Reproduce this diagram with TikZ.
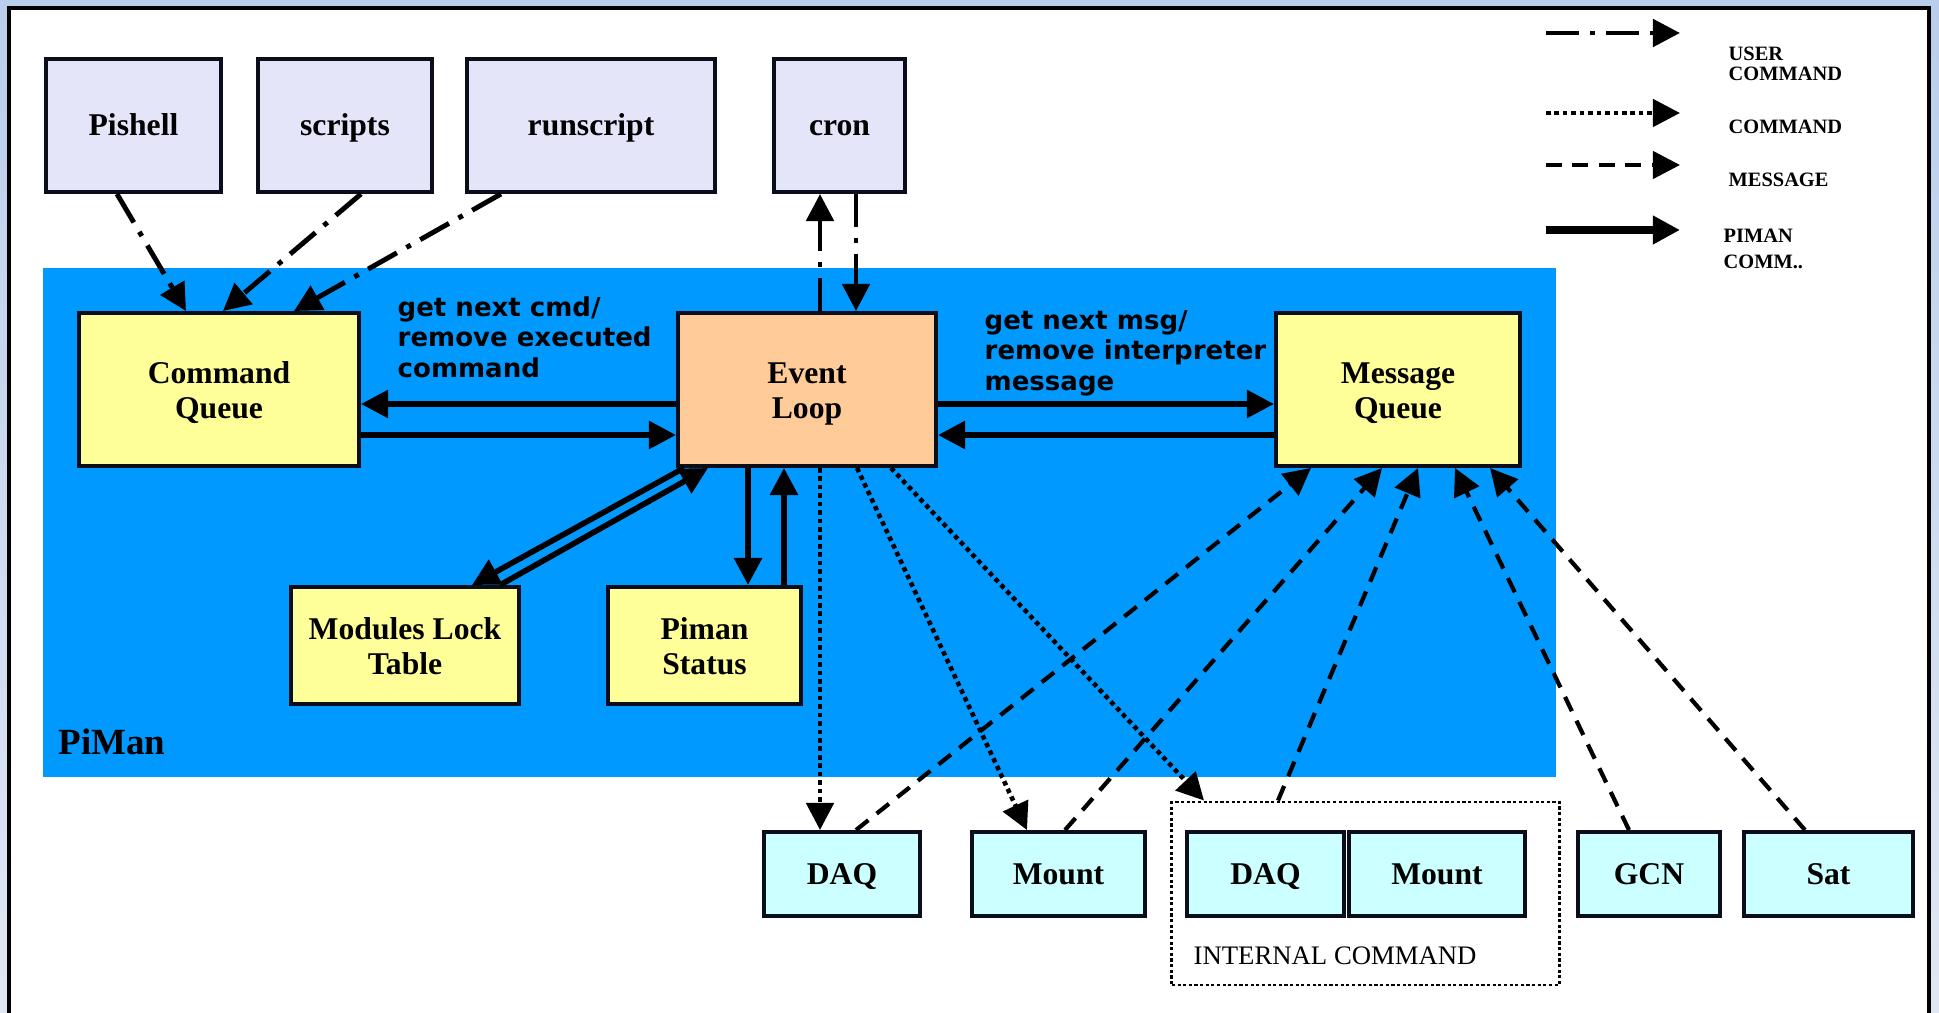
\documentclass[tikz,border=0pt]{standalone}
\usepackage{fontspec}
\setmainfont{Liberation Serif}
\newfontfamily\verdana{DejaVu Sans}
\usetikzlibrary{arrows.meta}
\definecolor{pimanblue}{HTML}{0099FF}
\definecolor{userfill}{HTML}{E5E5FA}
\definecolor{pimanfill}{HTML}{FFFF99}
\definecolor{loopfill}{HTML}{FFCC99}
\definecolor{devfill}{HTML}{CCFFFF}
\definecolor{edge}{HTML}{0A0E1A}

\begin{document}
\begin{tikzpicture}[x=0.01cm,y=-0.01cm,>={Triangle[length=7.7pt,width=7.7pt]}]
\tikzset{box/.style = {draw=edge, line width=1.1pt, inner sep=0pt, align=center, font=\fontsize{9}{10}\selectfont\bfseries},
  oneline/.style = {text height=5.95pt, text depth=0pt}, twoline/.style = {text height=16.6pt, text depth=0pt},
  ubox/.style = {box, oneline, fill=userfill, minimum height=1.33cm}, pbox/.style = {box, twoline, fill=pimanfill}, dbox/.style = {box, oneline, fill=devfill, minimum height=0.84cm},
  ucmd/.style = {->, line width=1.4pt, dash pattern=on 9.4pt off 3.1pt on 1.4pt off 3.1pt},
  cmd/.style = {->, line width=1.3pt, dash pattern=on 1.3pt off 1.1pt},
  msg/.style = {->, line width=1.2pt, dash pattern=on 4.5pt off 3pt},
  pcomm/.style = {->, line width=1.6pt},
  lbl/.style = {anchor=west, inner sep=0pt, align=left, font=\verdana\bfseries\fontsize{7.4}{8.7}\selectfont},
  key/.style = {anchor=west, inner sep=0pt, align=left, font=\bfseries\fontsize{5.8}{5.8}\selectfont}}
\useasboundingbox (0,0) rectangle (1939,1013);
\shade[top color={rgb,255:red,185;green,206;blue,236}, bottom color={rgb,255:red,224;green,231;blue,244}] (0,0) rectangle (1939,1013);
\fill[white] (9,8) rectangle (1929,1013); \draw[line width=0.9pt] (9,1013) -- (9,8) -- (1929,8) -- (1929,1013);
\node[fill=pimanblue, minimum width=15.13cm, minimum height=5.09cm, inner sep=0pt] (B) at (799.5,522.5) {};
\node[anchor=west, inner sep=0pt, font=\bfseries\fontsize{10.5}{12}\selectfont] (BL) at (58,741.5) {PiMan};

\node[ubox, minimum width=1.75cm] (U1) at (133.5,125.5) {Pishell}; \node[ubox, minimum width=1.74cm] (U2) at (345,125.5) {scripts};
\node[ubox, minimum width=2.48cm] (U3) at (591,125.5) {runscript}; \node[ubox, minimum width=1.31cm] (U4) at (839.5,125.5) {cron};

\node[pbox, minimum width=2.8cm, minimum height=1.53cm] (P1) at (219,389.5) {Command\\Queue};
\node[pbox, fill=loopfill, minimum width=2.58cm, minimum height=1.53cm] (P2) at (807,389.5) {Event\\Loop};
\node[pbox, minimum width=2.44cm, minimum height=1.53cm] (P3) at (1398,389.5) {Message\\Queue};
\node[pbox, minimum width=2.28cm, minimum height=1.17cm] (P4) at (405,645.5) {Modules Lock\\Table};
\node[pbox, minimum width=1.93cm, minimum height=1.17cm] (P5) at (704.5,645.5) {Piman\\Status};

\node[lbl] (T1) at (397,337) {get next cmd/\\remove executed\\command};
\node[lbl] (T2) at (984,353) {get next msg/\\remove interpreter\\message};

\node[draw, line width=0.8pt, dash pattern=on 0.9pt off 0.7pt, minimum width=3.87cm, minimum height=1.83cm, inner sep=0pt] (IC) at (1365.5,893.5) {};
\node[anchor=west, inner sep=0pt, font=\fontsize{7.6}{9}\selectfont] (ICL) at (1193,955.5) {INTERNAL COMMAND};
\node[dbox, minimum width=1.56cm] (S1) at (842,874) {DAQ}; \node[dbox, minimum width=1.73cm] (S2) at (1058.5,874) {Mount};
\node[dbox, minimum width=1.57cm] (S3) at (1265.5,874) {DAQ}; \node[dbox, minimum width=1.76cm] (S4) at (1437,874) {Mount};
\node[dbox, minimum width=1.42cm] (S5) at (1649,874) {GCN}; \node[dbox, minimum width=1.69cm] (S6) at (1828.5,874) {Sat};

\draw[ucmd] (117,0 |- U1.south) -- (186,0 |- P1.north); \draw[ucmd] (361,0 |- U2.south) -- (223,0 |- P1.north); \draw[ucmd] (501,0 |- U3.south) -- (294,0 |- P1.north);
\draw[ucmd] (820,0 |- P2.north) -- (820,0 |- U4.south); \draw[ucmd] (856,0 |- U4.south) -- (856,0 |- P2.north);

\draw[pcomm] (P2.west |- 0,404) -- (P1.east |- 0,404); \draw[pcomm] (P1.east |- 0,435) -- (P2.west |- 0,435);
\draw[pcomm] (P2.east |- 0,404) -- (P3.west |- 0,404); \draw[pcomm] (P3.west |- 0,435) -- (P2.east |- 0,435);
\draw[pcomm] (684,0 |- P2.south) -- (472,0 |- P4.north); \draw[pcomm] (500,0 |- P4.north) -- (708,0 |- P2.south);
\draw[pcomm] (748,0 |- P2.south) -- (748,0 |- P5.north); \draw[pcomm] (784,0 |- P5.north) -- (784,0 |- P2.south);

\draw[cmd] (820,0 |- P2.south) -- (820,0 |- S1.north); \draw[cmd] (857,0 |- P2.south) -- (1027,0 |- S2.north); \draw[cmd] (891,0 |- P2.south) -- (1204,0 |- IC.north);

\draw[msg] (856,0 |- S1.north) -- (1311,0 |- P3.south); \draw[msg] (1065,0 |- S2.north) -- (1382,0 |- P3.south); \draw[msg] (1278,0 |- IC.north) -- (1418,0 |- P3.south);
\draw[msg] (1629,0 |- S5.north) -- (1455,0 |- P3.south); \draw[msg] (1805,0 |- S6.north) -- (1490,0 |- P3.south);

\coordinate (K1a) at (1546,33); \coordinate (K1b) at (1680,33); \coordinate (K2a) at (1546,113); \coordinate (K2b) at (1680,113);
\coordinate (K3a) at (1546,165); \coordinate (K3b) at (1680,165); \coordinate (K4a) at (1546,230); \coordinate (K4b) at (1680,230);
\draw[ucmd] (K1a) -- (K1b); \draw[cmd] (K2a) -- (K2b); \draw[msg] (K3a) -- (K3b); \draw[pcomm, line width=2pt] (K4a) -- (K4b);
\node[key] (K1) at (1728,64) {USER\\COMMAND}; \node[key] (K2) at (1728,126.5) {COMMAND};
\node[key] (K3) at (1728,180) {MESSAGE}; \node[key, font=\bfseries\fontsize{5.8}{7.3}\selectfont] (K4) at (1723,249) {PIMAN\\COMM..};
\end{tikzpicture}
\end{document}
